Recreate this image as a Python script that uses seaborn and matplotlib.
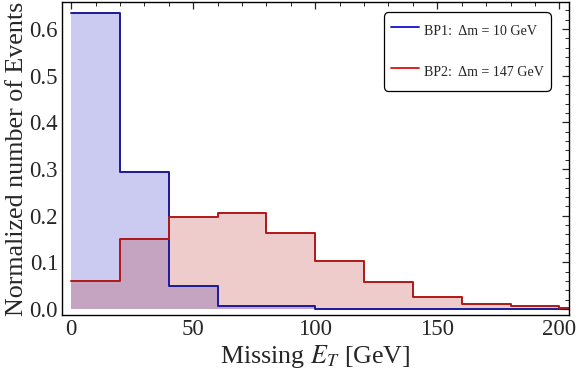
import numpy as np
import pandas as pd
import matplotlib
matplotlib.use("Agg")
import matplotlib.pyplot as plt
from matplotlib.lines import Line2D
from matplotlib.ticker import MultipleLocator
import seaborn as sns

# histogram data (bins of 20 GeV)
bin_edges = [0, 20, 40, 60, 80, 100, 120, 140, 160, 180, 200, 220]
bp1_values = [0.635, 0.293, 0.050, 0.006, 0.006, 0.001, 0.001, 0.001, 0.001, 0.001, 0.001]
bp2_values = [0.060, 0.150, 0.198, 0.205, 0.163, 0.104, 0.058, 0.025, 0.011, 0.006, 0.003]
labels = ["BP1:  \u0394m = 10 GeV", "BP2:  \u0394m = 147 GeV"]

sns.set_style("white")
plt.rcParams["font.family"] = ["Liberation Serif", "DejaVu Serif"]
plt.rcParams["mathtext.fontset"] = "stix"

df = pd.DataFrame({
    "met": bin_edges[:-1] * 2,
    "w": bp1_values + bp2_values,
    "bp": ["BP1"] * len(bp1_values) + ["BP2"] * len(bp2_values),
})

fig = plt.figure(figsize=(5.76, 3.73), dpi=100)
ax = fig.add_axes([0.108, 0.155, 0.88, 0.84])

fills = {"BP1": (0.2, 0.2, 0.8), "BP2": (0.7, 0.1, 0.1)}
alphas = {"BP1": 0.25, "BP2": 0.22}
lines = {"BP1": "#1a1a9a", "BP2": "#b01818"}
for bp in ["BP1", "BP2"]:
    sub = df[df["bp"] == bp]
    sns.histplot(data=sub, x="met", weights="w", bins=bin_edges, element="step",
                 fill=True, color=fills[bp], alpha=alphas[bp], linewidth=0, ax=ax)
for bp in ["BP1", "BP2"]:
    sub = df[df["bp"] == bp]
    sns.histplot(data=sub, x="met", weights="w", bins=bin_edges, element="step",
                 fill=False, color=lines[bp], linewidth=1.4, ax=ax)

ax.set_xlim(-3.7, 204)
ax.set_ylim(-0.013, 0.658)
ax.xaxis.set_major_locator(MultipleLocator(50))
ax.xaxis.set_minor_locator(MultipleLocator(10))
ax.yaxis.set_major_locator(MultipleLocator(0.1))
ax.yaxis.set_minor_locator(MultipleLocator(0.02))
ax.yaxis.set_major_formatter(plt.FormatStrFormatter("%.1f"))
ax.tick_params(which="both", direction="in", top=True, right=True, labelsize=16.5, pad=3)
ax.tick_params(which="major", length=5, width=0.9)
ax.tick_params(which="minor", length=3, width=0.7)
for s in ax.spines.values():
    s.set_color("black")
    s.set_linewidth(1.0)

ax.set_xlabel("Missing $E_T$ [GeV]", fontsize=18.7, labelpad=2)
ax.set_ylabel("Normalized number of Events", fontsize=18.7, labelpad=1)

handles = [Line2D([], [], color="#1010d0", lw=1.3), Line2D([], [], color="#e01010", lw=1.3)]
leg = ax.legend(handles, labels, loc="upper right", bbox_to_anchor=(0.9645, 0.968),
                borderaxespad=0, fontsize=10.1, frameon=True, fancybox=True,
                edgecolor="black", handlelength=2.0, handleheight=2.3,
                labelspacing=1.15, borderpad=0.5, handletextpad=0.4)
leg.get_frame().set_linewidth(0.9)
leg.get_frame().set_alpha(1)
leg.get_frame().set_boxstyle("round,pad=0,rounding_size=0.35")

fig.savefig("out.png", dpi=100)
